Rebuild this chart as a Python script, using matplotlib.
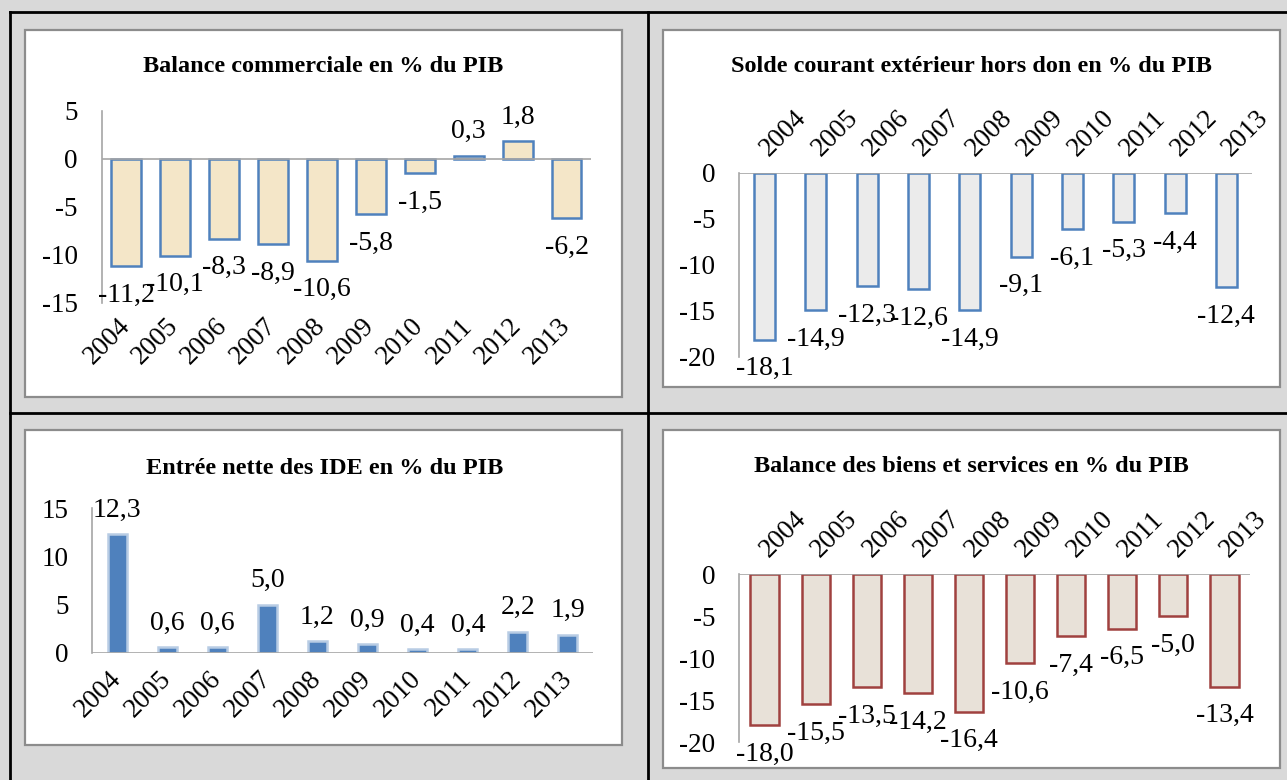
import matplotlib.pyplot as plt
from matplotlib.patches import Rectangle
from matplotlib.lines import Line2D
import numpy as np

plt.rcParams['font.family'] = ['Liberation Serif', 'DejaVu Serif']
plt.rcParams['axes.unicode_minus'] = False

W, H = 1287, 780

years = ['2004', '2005', '2006', '2007', '2008', '2009', '2010', '2011', '2012', '2013']
balance_commerciale = [-11.2, -10.1, -8.3, -8.9, -10.6, -5.8, -1.5, 0.3, 1.8, -6.2]
solde_courant = [-18.1, -14.9, -12.3, -12.6, -14.9, -9.1, -6.1, -5.3, -4.4, -12.4]
entree_ide = [12.3, 0.6, 0.6, 5.0, 1.2, 0.9, 0.4, 0.4, 2.2, 1.9]
balance_biens = [-18.0, -15.5, -13.5, -14.2, -16.4, -10.6, -7.4, -6.5, -5.0, -13.4]

titles = ['Balance commerciale en % du PIB',
          'Solde courant extérieur hors don en % du PIB',
          'Entrée nette des IDE en % du PIB',
          'Balance des biens et services en % du PIB']


def fx(x):
    return x / W


def fy(y):
    return 1 - y / H


fig = plt.figure(figsize=(W / 100, H / 100), dpi=100)
fig.patch.set_facecolor('#d9d9d9')

# table lines
for (x0, y0, x1, y1) in [(10, 12, W, 12), (10, 12, 10, H), (648, 12, 648, H), (10, 413, W, 413)]:
    fig.add_artist(Line2D([fx(x0), fx(x1)], [fy(y0), fy(y1)], color='black', lw=2, zorder=-1))

# white chart boxes (left, top, right, bottom) in pixels
boxes = [(25, 30, 622, 397), (663, 30, 1280, 387), (25, 430, 622, 745), (663, 430, 1280, 768)]
for (l, t, r, b) in boxes:
    fig.add_artist(Rectangle((fx(l), fy(b)), (r - l) / W, (b - t) / H,
                             facecolor='white', edgecolor='#8c8c8c', lw=1.6, zorder=-1))


def make_chart(rect, values, ylim, yticks, title, title_xy, face, edge, width,
               labels_top, lab_off, tick_pad):
    l, t, r, b = rect
    ax = fig.add_axes([fx(l), fy(b), (r - l) / W, (b - t) / H])
    ax.set_facecolor('none')
    x = np.arange(len(years))
    ax.bar(x, values, width=width, color=face, edgecolor=edge, linewidth=1.8, zorder=2)
    ax.axhline(0, color='#a6a6a6', lw=1.2, zorder=3)
    ax.set_xlim(-0.5, 9.5)
    ax.set_ylim(*ylim)
    for s in ['top', 'right', 'bottom']:
        ax.spines[s].set_visible(False)
    ax.spines['left'].set_color('#a6a6a6')
    ax.spines['left'].set_linewidth(1.2)
    ax.set_yticks(yticks)
    ax.set_yticklabels([str(v) for v in yticks])
    ax.tick_params(axis='y', length=0, labelsize=19.5, pad=17)
    ax.set_xticks(x)
    if labels_top:
        ax.tick_params(axis='x', length=0, labelsize=19.5, pad=tick_pad,
                       bottom=False, top=True, labelbottom=False, labeltop=True)
        ax.set_xticklabels(years, rotation=45, ha='left', va='center', rotation_mode='anchor')
    else:
        ax.tick_params(axis='x', length=0, labelsize=19.5, pad=tick_pad)
        ax.set_xticklabels(years, rotation=45, ha='right', va='center', rotation_mode='anchor')
    for i, v in enumerate(values):
        off = lab_off if v >= 0 else -lab_off - 5
        ax.annotate(f'{v:.1f}'.replace('.', ','), (i, v), xytext=(0, off),
                    textcoords='offset pixels', ha='center', va='center',
                    fontsize=20, annotation_clip=False, zorder=4)
    fig.text(fx(title_xy[0]), fy(title_xy[1]), title, ha='center', va='center',
             fontsize=17.5, fontweight='bold')
    return ax


make_chart((101.5, 110.5, 591, 303), balance_commerciale, (-15, 5), [5, 0, -5, -10, -15],
           titles[0], (323, 67), '#f4e6c8', '#4f81bd', 0.61, False, 24, 14)
make_chart((739, 173, 1252, 357), solde_courant, (-20, 0), [0, -5, -10, -15, -20],
           titles[1], (971, 67), '#ebebeb', '#4f81bd', 0.41, True, 24, 15)
make_chart((92, 508, 593, 653), entree_ide, (0, 15), [0, 5, 10, 15],
           titles[2], (325, 468), '#4f81bd', '#b8cce4', 0.38, False, 24, 16)
make_chart((739, 574, 1250, 742), balance_biens, (-20, 0), [0, -5, -10, -15, -20],
           titles[3], (971, 467), '#e8e1d8', '#a0413f', 0.55, True, 24, 15)

fig.savefig('out.png', dpi=100, facecolor=fig.get_facecolor())
